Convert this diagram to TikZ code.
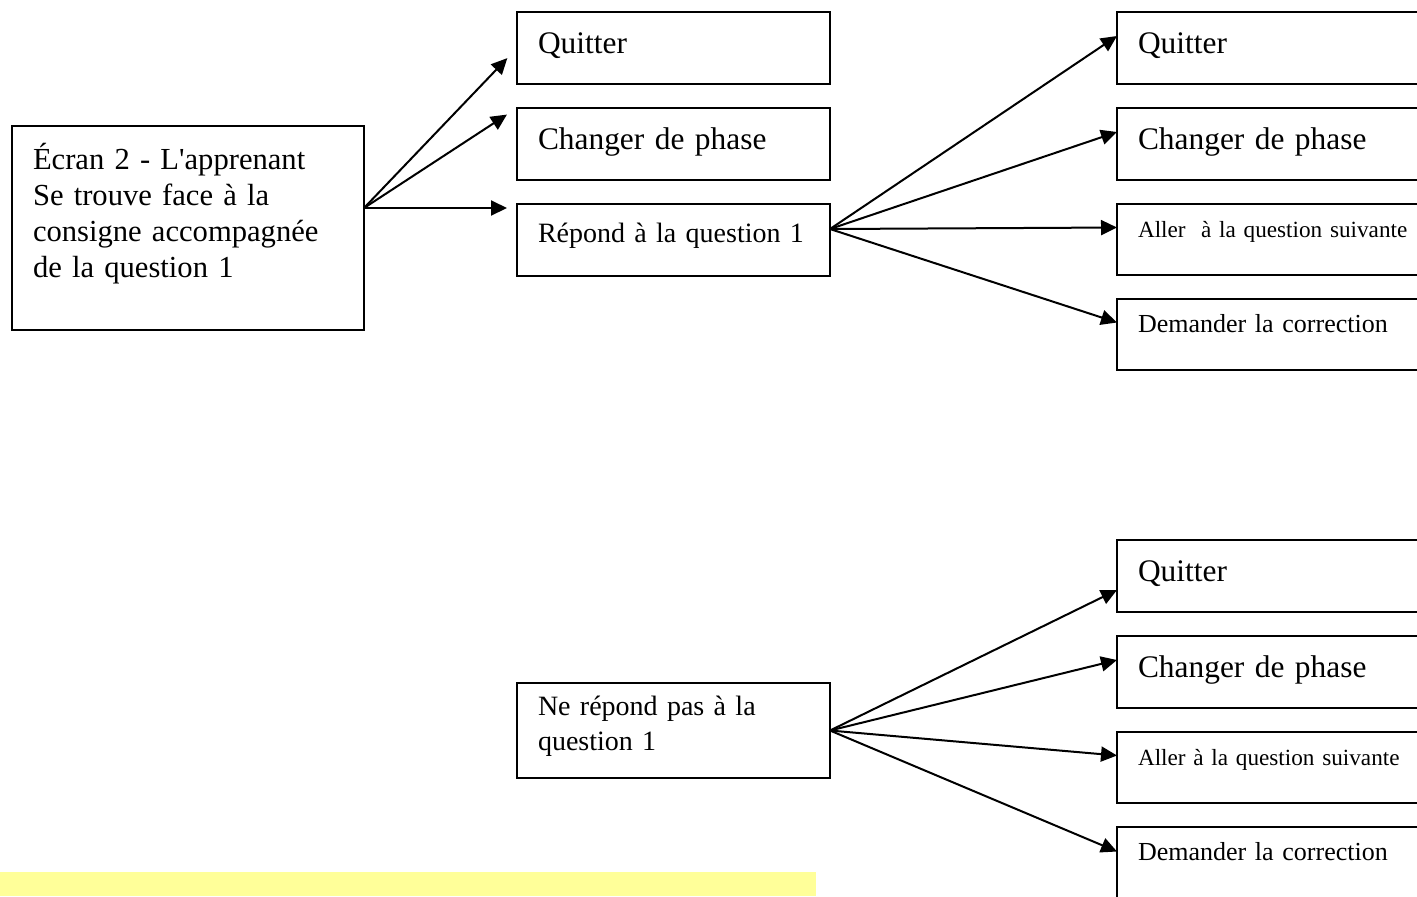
\documentclass[tikz,border=0pt]{standalone}
\usepackage{fontspec}
\setmainfont{Liberation Serif}
\usetikzlibrary{arrows.meta,positioning}
\definecolor{jaune}{HTML}{FFFF99}
\tikzset{
  menu/boite/.style={draw, line width=1pt, anchor=north west, outer sep=0pt, inner xsep=10.5pt, inner ysep=0pt, align=left, text width=135.5pt},
  menu/grand/.style={menu/boite, font=\fontsize{15.7}{18}\selectfont, text height=20.5pt, text depth=15.5pt},
  menu/moyen/.style={menu/boite, font=\fontsize{14}{17.5}\selectfont, text height=19pt, text depth=17pt},
  menu/petit/.style={menu/boite, font=\fontsize{11.6}{14}\selectfont, text height=16.5pt, text depth=19pt},
  menu/large/.style={text width=175pt},
  menu/fleche/.style={line width=1pt, -{Triangle[length=8pt,width=7.5pt]}}
}

\begin{document}
\begin{tikzpicture}[x=0.5pt, y=-0.5pt, node distance=12pt]
  \useasboundingbox (0,0) rectangle (1417,896);
  \clip (0,0) rectangle (1417,896);
  \fill[jaune] (0,872) rectangle (816,896);

  % Screen 2
  \node[menu/boite, font=\fontsize{15.3}{18}\selectfont, text width=155pt, text height=21.5pt, text depth=80.5pt] (ecran) at (12,126)
    {Écran 2 - L\textquotesingle apprenant\\ Se trouve face à la\\ consigne accompagnée\\ de la question 1};

  % First choices
  \node[menu/grand] (quit1) at (517,12) {Quitter};
  \node[menu/grand, below=of quit1] (phase1) {Changer de phase};
  \node[menu/moyen, below=of phase1] (rep) {Répond à la question 1};
  \node[menu/moyen, text height=16pt, text depth=31.5pt] (nerep) at (517,683) {Ne répond pas à la\\ question 1};

  % Choices after an answer
  \node[menu/grand, menu/large] (quitR1) at (1117,12) {Quitter};
  \node[menu/grand, menu/large, below=of quitR1] (phaseR1) {Changer de phase};
  \node[menu/petit, menu/large, below=of phaseR1] (allerR1) {Aller\ \ à la question suivante};
  \node[menu/petit, menu/large, font=\fontsize{13}{15}\selectfont, below=of allerR1] (corrR1) {Demander la correction};

  % Choices without an answer
  \node[menu/grand, menu/large] (quitR2) at (1117,540) {Quitter};
  \node[menu/grand, menu/large, below=of quitR2] (phaseR2) {Changer de phase};
  \node[menu/petit, menu/large, below=of phaseR2] (allerR2) {Aller à la question suivante};
  \node[menu/petit, menu/large, font=\fontsize{13}{15}\selectfont, below=of allerR2] (corrR2) {Demander la correction};

  \coordinate (depart) at ([yshift=10pt]ecran.east);
  \coordinate (depart-rep) at ([yshift=5.5pt]rep.east);

  \draw[menu/fleche, shorten >=7pt] (depart) -- (quit1.west);
  \draw[menu/fleche, shorten >=6pt] (depart) -- (phase1.north west);
  \draw[menu/fleche, shorten >=5pt] (depart) -- (depart -| rep.west);

  \foreach \cible in {quitR1, phaseR1, allerR1, corrR1}
    \draw[menu/fleche] (depart-rep) -- ([yshift=6pt]\cible.west);

  \foreach \cible/\dy in {quitR2/-7pt, phaseR2/6pt, allerR2/6pt, corrR2/5.5pt}
    \draw[menu/fleche] (nerep.east) -- ([yshift=\dy]\cible.west);
\end{tikzpicture}
\end{document}
